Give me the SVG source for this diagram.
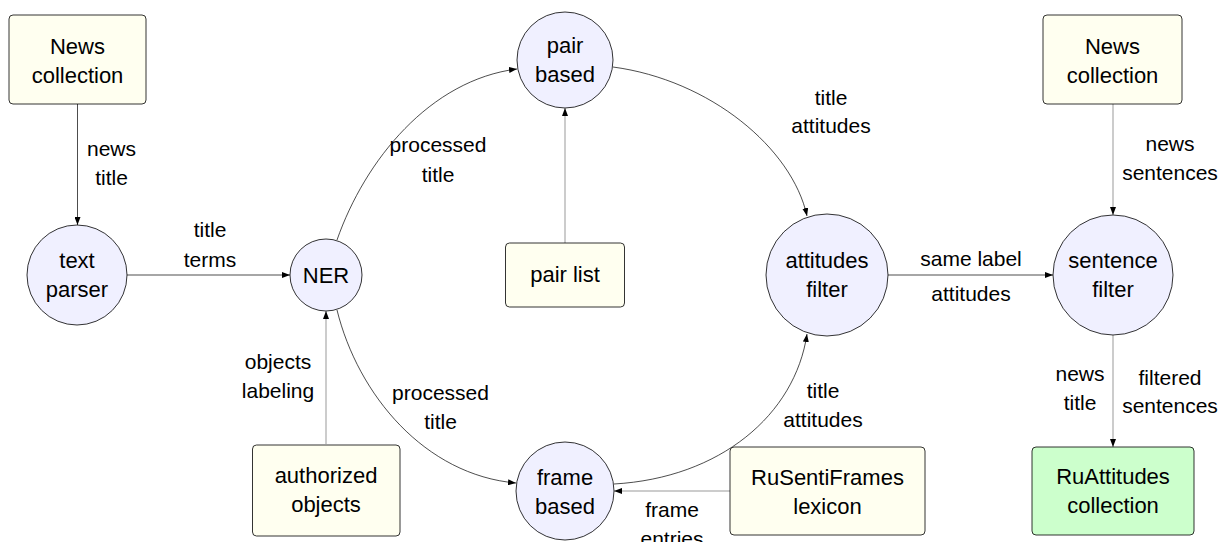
<svg xmlns="http://www.w3.org/2000/svg" width="1219" height="542" viewBox="0 0 1219 542">
<defs>
<marker id="arr" markerUnits="userSpaceOnUse" markerWidth="8" markerHeight="6" viewBox="0 0 8 6" refX="8" refY="3" orient="auto"><path d="M0,0 L8,3 L0,6 z" fill="#000"/></marker>
</defs>
<style>
.c{fill:#f0f0ff;stroke:#000;stroke-width:0.8}
.b{fill:#fffff0;stroke:#000;stroke-width:0.8}
.g{fill:#ccffcc;stroke:#000;stroke-width:0.8}
text{font-family:"Liberation Sans",Arial,sans-serif;fill:#000;text-anchor:middle}
.n{font-size:22px}
.e{font-size:21px}
.k{fill:none;stroke:#000;stroke-width:0.7;marker-end:url(#arr)}
.l{fill:none;stroke:#999;stroke-width:1;marker-end:url(#arr)}
</style>
<rect width="1219" height="542" fill="#fff"/>
<g id="connectors">
<path class="k" d="M77.5,104 V225"/>
<path class="k" d="M127,275 H290"/>
<path class="k" d="M337,240 C365,160 430,80 517,69"/>
<path class="l" d="M565,243 V108"/>
<path class="k" d="M613,67 C710,80 792,148 807,216"/>
<path class="k" d="M888,275 H1053"/>
<path class="l" d="M1113,104 V215"/>
<path class="l" d="M1113,335 V447"/>
<path class="l" d="M326,444 V311"/>
<path class="k" d="M337,310 C358,395 425,475 516,483"/>
<path class="k" d="M614,484 C720,478 795,415 807,334"/>
<path class="l" d="M730,491 H614"/>
</g>
<g id="edge-labels">
<text class="e" x="111.5" y="156">news</text><text class="e" x="111.5" y="185">title</text>
<text class="e" x="210" y="237">title</text><text class="e" x="210" y="267">terms</text>
<text class="e" x="438" y="152">processed</text><text class="e" x="438" y="182">title</text>
<text class="e" x="831" y="105">title</text><text class="e" x="831" y="133">attitudes</text>
<text class="e" x="971" y="266">same label</text><text class="e" x="971" y="301">attitudes</text>
<text class="e" x="1170" y="151">news</text><text class="e" x="1170" y="180">sentences</text>
<text class="e" x="1080" y="381">news</text><text class="e" x="1080" y="410">title</text>
<text class="e" x="1170" y="385">filtered</text><text class="e" x="1170" y="413">sentences</text>
<text class="e" x="278" y="369">objects</text><text class="e" x="278" y="398">labeling</text>
<text class="e" x="440.5" y="400">processed</text><text class="e" x="440.5" y="429">title</text>
<text class="e" x="823" y="398">title</text><text class="e" x="823" y="427">attitudes</text>
<text class="e" x="672" y="517">frame</text><text class="e" x="672" y="546">entries</text>
</g>
<g id="news-left"><rect class="b" x="9" y="15" width="137" height="89" rx="4"/><text class="n" x="77.5" y="54">News</text><text class="n" x="77.5" y="83">collection</text></g>
<g id="text-parser"><circle class="c" cx="77" cy="275" r="50"/><text class="n" x="77" y="268">text</text><text class="n" x="77" y="297">parser</text></g>
<g id="ner"><circle class="c" cx="326" cy="275" r="36"/><text class="n" x="326" y="283">NER</text></g>
<g id="pair-based"><circle class="c" cx="565" cy="60" r="48"/><text class="n" x="565" y="53">pair</text><text class="n" x="565" y="82">based</text></g>
<g id="pair-list"><rect class="b" x="505.5" y="243" width="119" height="64" rx="4"/><text class="n" x="565" y="282">pair list</text></g>
<g id="attitudes-filter"><circle class="c" cx="827" cy="275" r="61"/><text class="n" x="827" y="268">attitudes</text><text class="n" x="827" y="297">filter</text></g>
<g id="sentence-filter"><circle class="c" cx="1113" cy="275" r="60"/><text class="n" x="1113" y="268">sentence</text><text class="n" x="1113" y="297">filter</text></g>
<g id="news-right"><rect class="b" x="1043" y="15" width="139" height="89" rx="4"/><text class="n" x="1112.5" y="54">News</text><text class="n" x="1112.5" y="83">collection</text></g>
<g id="ruattitudes"><rect class="g" x="1032" y="447" width="162" height="88" rx="4"/><text class="n" x="1113" y="484">RuAttitudes</text><text class="n" x="1113" y="513">collection</text></g>
<g id="authorized-objects"><rect class="b" x="252.5" y="445" width="147.5" height="91" rx="4"/><text class="n" x="326" y="483">authorized</text><text class="n" x="326" y="512">objects</text></g>
<g id="frame-based"><circle class="c" cx="565" cy="491" r="49"/><text class="n" x="565" y="485">frame</text><text class="n" x="565" y="514">based</text></g>
<g id="rusentiframes"><rect class="b" x="730" y="447" width="195" height="88" rx="4"/><text class="n" x="827.5" y="485">RuSentiFrames</text><text class="n" x="827.5" y="514">lexicon</text></g>
</svg>
